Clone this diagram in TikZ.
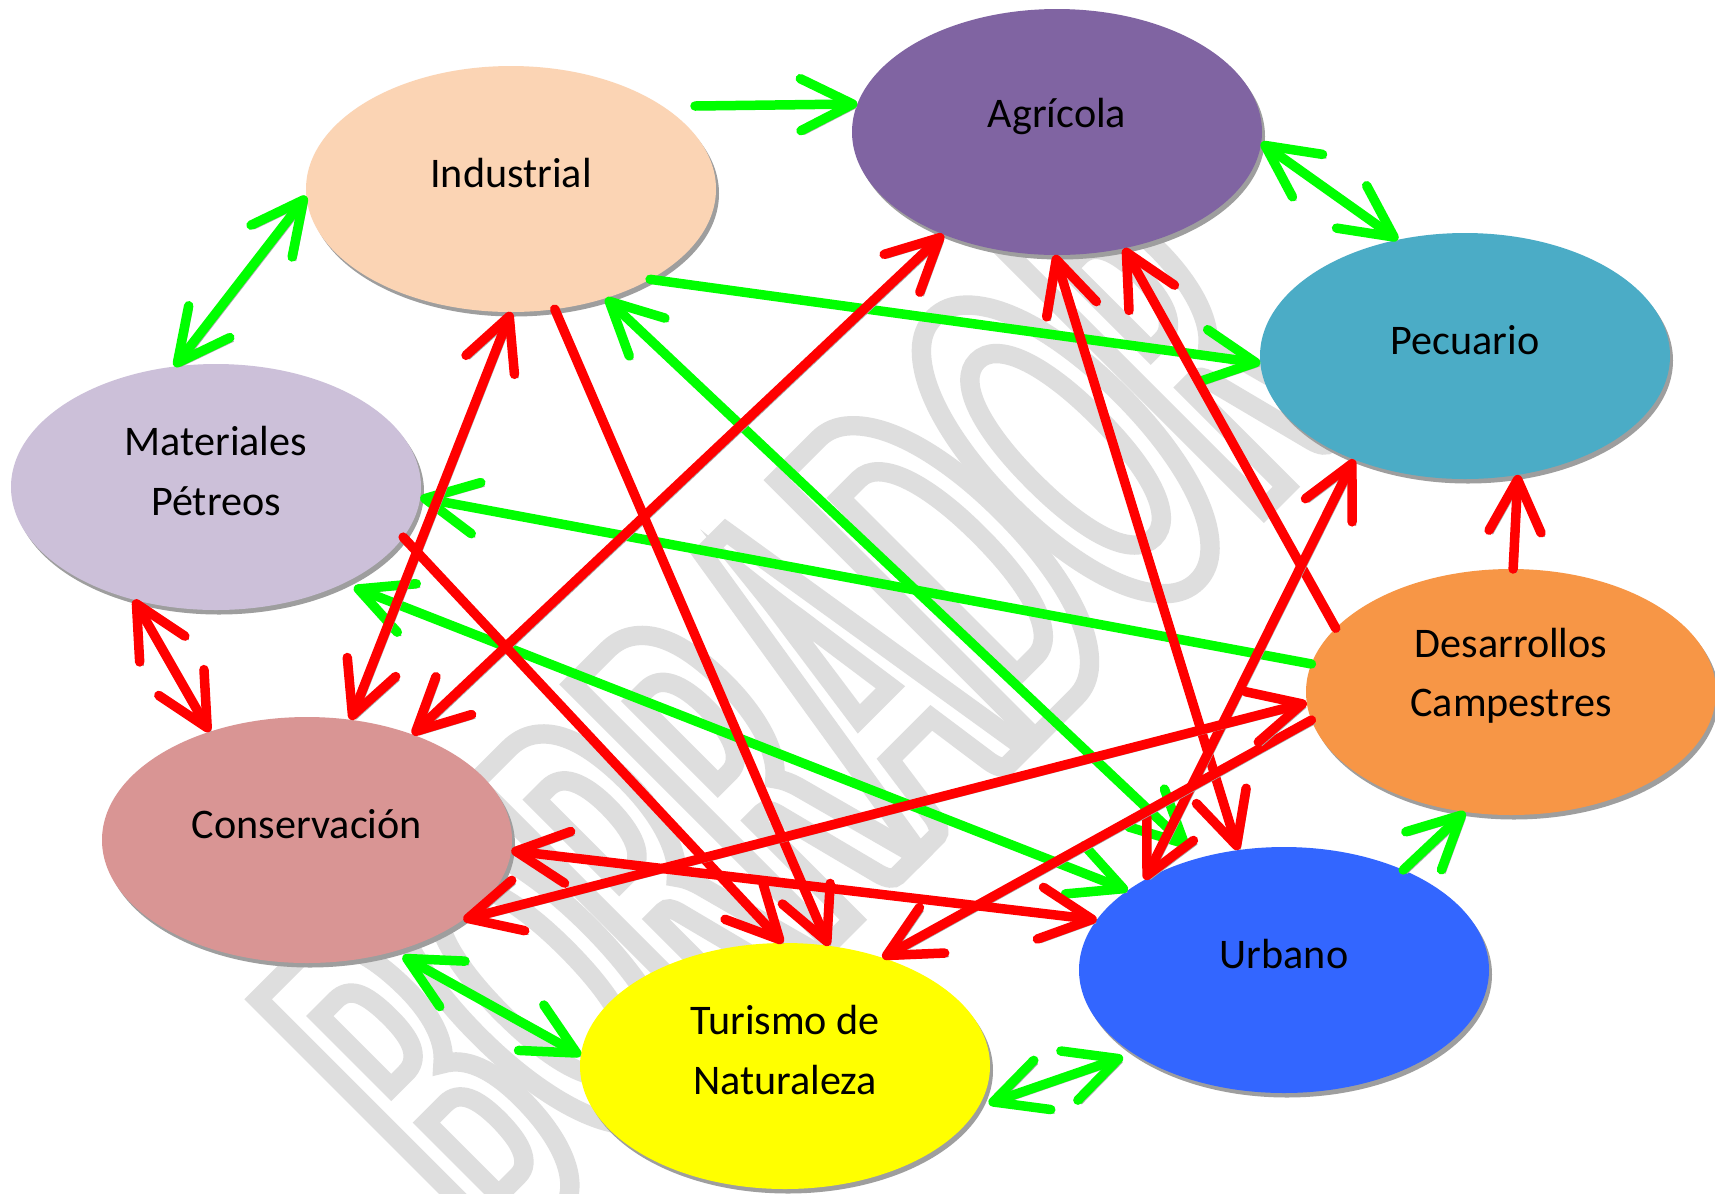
\documentclass[tikz,border=0pt]{standalone}
\usepackage{fontspec}
\setmainfont{Carlito}
\newfontfamily\marcafont[FakeStretch=0.44]{Carlito}
\usetikzlibrary{arrows.meta,shapes.geometric,shadows}

\definecolor{cInd}{HTML}{FBD4B4}
\definecolor{cAgr}{HTML}{8064A2}
\definecolor{cPec}{HTML}{4BACC6}
\definecolor{cMat}{HTML}{CCC0D9}
\definecolor{cCon}{HTML}{D99594}
\definecolor{cTur}{HTML}{FFFF00}
\definecolor{cUrb}{HTML}{3366FF}
\definecolor{cDes}{HTML}{F79646}
\definecolor{verde}{HTML}{00FF00}
\definecolor{rojo}{HTML}{FF0000}

\begin{document}
\begin{tikzpicture}[x=0.1mm,y=-0.1mm,
  zona/.style={ellipse,minimum width=4.1cm,minimum height=2.46cm,inner sep=0pt,outer sep=0pt,
    drop shadow={shadow xshift=0.3mm,shadow yshift=-0.45mm,fill=black!38,opacity=1}},
  rotulo/.style={font=\fontsize{12}{16.8}\selectfont,align=center},
  punta/.tip={Straight Barb[length=5.2mm,width=5.2mm,round]},
  flecha/.style={line width=0.95mm,line cap=round,-punta,
    preaction={draw=black!35,transform canvas={shift={(0.35mm,-0.35mm)}}}},
  doble/.style={flecha,punta-punta},
  marca/.style={text=black!13,rotate=45,inner sep=0pt,font=\marcafont\bfseries\fontsize{160}{160}\selectfont}]
  \path[use as bounding box,fill=white] (0,0) rectangle (1715,1193);

  % marca de agua
  \node[marca] (borrador) at (800,715)
    {\special{pdf:literal direct 1 Tr 5.5 w}BORRADOR\special{pdf:literal direct 0 Tr}};

  % zonas
  \node[zona,fill=cInd] (ind) at (511,189) {};
  \node[zona,fill=cAgr] (agr) at (1057,132) {};
  \node[zona,fill=cPec] (pec) at (1465,356) {};
  \node[zona,fill=cMat] (mat) at (216,487) {};
  \node[zona,fill=cCon] (con) at (307,840) {};
  \node[zona,fill=cTur] (tur) at (785,1066) {};
  \node[zona,fill=cUrb] (urb) at (1284,970) {};
  \node[zona,fill=cDes] (des) at (1511,692) {};

  \node[rotulo] (tInd) at ([yshift=1.6mm]ind.center) {Industrial};
  \node[rotulo] (tAgr) at ([yshift=1.6mm]agr.center) {Agrícola};
  \node[rotulo] (tPec) at ([yshift=1.6mm]pec.center) {Pecuario};
  \node[rotulo] (tMat) at ([yshift=1.6mm]mat.center) {Materiales\\Pétreos};
  \node[rotulo] (tCon) at ([yshift=1.6mm]con.center) {Conservación};
  \node[rotulo] (tTur) at ([yshift=1.6mm]tur.center) {Turismo de\\Naturaleza};
  \node[rotulo] (tUrb) at ([yshift=1.6mm]urb.center) {Urbano};
  \node[rotulo] (tDes) at ([yshift=1.6mm]des.center) {Desarrollos\\Campestres};

  % relaciones verdes
  \coordinate (g1s) at (695,106);
  \draw[flecha,verde] (g1s) -- (agr.172);
  \draw[doble,verde] (agr.-3) -- (pec.120);
  \draw[doble,verde] (ind.182) -- (mat.109);
  \draw[flecha,verde] (ind.-33) -- (pec.182);
  \draw[flecha,verde] (des.172) -- (mat.-3);
  \draw[doble,verde,shorten >=1.6mm] (ind.-49) -- (urb.127);
  \draw[doble,verde,shorten <=1.1mm] (mat.-37) -- (urb.153);
  \draw[doble,verde,shorten <=1mm] (con.-52) -- (tur.177);
  \draw[doble,verde,shorten <=1.1mm,shorten >=1.1mm] (tur.-12) -- (urb.209);
  \draw[flecha,verde] (urb.40) -- (des.249);

  % relaciones rojas
  \draw[doble,rojo] (mat.234) -- (con.132);
  \draw[doble,rojo] (ind.270) -- (con.70);
  \draw[doble,rojo] (agr.222) -- (con.45);
  \draw[flecha,rojo] (ind.-70) -- (tur.70);
  \draw[flecha,rojo] (mat.-15) -- (tur.91);
  \draw[doble,rojo] (agr.269) -- (urb.111);
  \draw[flecha,rojo] (des.160) -- (agr.-60);
  \draw[doble,rojo] (pec.223) -- (urb.147);
  \draw[flecha,rojo] (des.188) -- (tur.48.5);
  \draw[doble,rojo] (con.-27) -- (des.183);
  \draw[doble,rojo] (con.-3) -- (urb.165);
  \draw[flecha,rojo] (des.89) -- (pec.-66);
\end{tikzpicture}
\end{document}
